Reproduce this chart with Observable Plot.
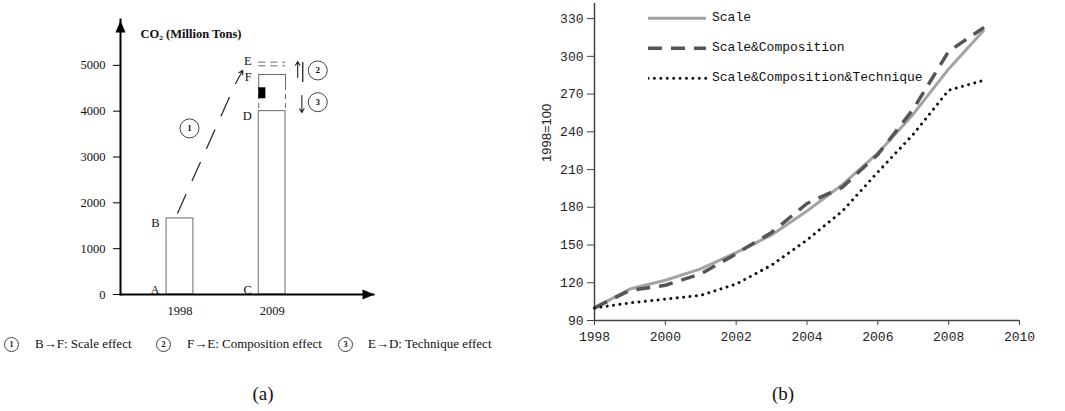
<!DOCTYPE html>
<html>
<head>
<meta charset="utf-8">
<script src="https://cdn.jsdelivr.net/npm/d3@7"></script>
<script src="https://cdn.jsdelivr.net/npm/@observablehq/plot@0.6"></script>
<style>
  body { margin: 0; background: #fff; }
  #page { position: relative; width: 1065px; height: 411px; overflow: hidden; background: #fff; }
  .abs { position: absolute; }
  .cap { position: absolute; top: 383px; width: 60px; margin-left: -30px; text-align: center;
         font-family: "Liberation Serif", serif; font-size: 19px; color: #111; line-height: 22px; }
  .num { position: absolute; width: 13px; height: 13px; border: 1px solid #444; border-radius: 50%;
         font-family: "Liberation Serif", serif; font-weight: bold; font-size: 8px; line-height: 13px; text-align: center; color: #111; }
  .leg { position: absolute; font-family: "Liberation Serif", serif; font-size: 13px; color: #111; line-height: 16px; white-space: nowrap; }
  .legB { position: absolute; font-family: "Liberation Mono", monospace; font-size: 13px; color: #111; line-height: 16px; white-space: nowrap; }
</style>
</head>
<body>
<div id="page">
  <div id="panelA" class="abs" style="left:0;top:0"></div>
  <div class="num" style="left:4px;top:337px">1</div>
  <div class="leg" style="left:35px;top:336px">B→F: Scale effect</div>
  <div class="num" style="left:156px;top:337px">2</div>
  <div class="leg" style="left:187px;top:336px">F→E: Composition effect</div>
  <div class="num" style="left:338px;top:337px">3</div>
  <div class="leg" style="left:368px;top:336px">E→D: Technique effect</div>
  <div class="cap" style="left:263px">(a)</div>

  <div id="panelB" class="abs" style="left:520px;top:0"></div>
  <div id="legendB" class="abs" style="left:648px;top:8px"></div>
  <div class="cap" style="left:783px">(b)</div>
</div>
<script>
// ---------- (a) decomposition of CO2 emissions, 1998 -> 2009 ----------
const periods = [1998, 2009];
const emissions = [1660, 4000];          // B and D (actual emissions)
const scaleLevel = 4800;                 // F: scale effect only
const compositionLevel = 5070;           // E: scale + composition
const compositionLevelLow = 4990;
const barHalf = 1.6;                     // half bar width, in years of the schematic axis

const bars = periods.map((p, i) => ({period: p, value: emissions[i]}));
const p1 = periods[0], p2 = periods[1];
const left2 = p2 - barHalf, right2 = p2 + barHalf;
const sideX = right2 + 1.45;

// arrowhead shape used at the end of both axes
const arrowHead = {draw(ctx) { ctx.moveTo(0, -12); ctx.lineTo(5, 0); ctx.lineTo(-5, 0); ctx.closePath(); }};

const serif = "'Liberation Serif', serif";
const one = [0];
const markers = [{x: 1999.14, y: 3624, n: "1"}, {x: 2014.45, y: 4888, n: "2"}, {x: 2014.45, y: 4196, n: "3"}];

const plotA = Plot.plot({
  width: 520, height: 330,
  marginLeft: 120, marginRight: 147, marginTop: 19, marginBottom: 36,
  x: {domain: [1990.9, 2021.1]},
  y: {domain: [0, 6000]},
  style: {fontFamily: serif, fontSize: "12.5px", color: "#111", background: "transparent"},
  marks: [
    Plot.axisY({ticks: [0, 1000, 2000, 3000, 4000, 5000], tickFormat: d => String(d), tickSize: 7, tickPadding: 8, label: null, stroke: "#000"}),
    Plot.axisX({ticks: periods, tickSize: 0, tickPadding: 12, tickFormat: d => String(d), label: null}),
    // bars
    Plot.rectY(bars, {x1: d => d.period - barHalf, x2: d => d.period + barHalf, y: "value", fill: "white", stroke: "#6a6a6a", strokeWidth: 1}),
    // hypothetical levels above 2009 bar
    Plot.ruleY([scaleLevel], {x1: left2, x2: right2, stroke: "#6a6a6a"}),
    Plot.ruleX([left2, right2], {y1: scaleLevel, y2: 4560, stroke: "#6a6a6a"}),
    Plot.ruleX([left2, right2], {y1: 4560, y2: emissions[1], stroke: "#6a6a6a", strokeDasharray: "5,4"}),
    Plot.ruleY([compositionLevel, compositionLevelLow], {x1: left2, x2: right2, stroke: "#6a6a6a", strokeDasharray: "7,5"}),
    Plot.rect(one, {x1: left2, x2: left2 + 0.85, y1: 4270, y2: 4510, fill: "#000"}),
    // scale-effect connector B -> F
    Plot.link(one, {x1: p1 - 0.3, y1: emissions[0] + 107, x2: 2004.64, y2: 4604, stroke: "#222", strokeWidth: 1.2, strokeDasharray: "21,14.5"}),
    Plot.arrow(one, {x1: 2004.64, y1: 4604, x2: 2005.48, y2: 4888, stroke: "#222", strokeWidth: 1.1, headLength: 6}),
    // composition / technique arrows
    Plot.arrow(one, {x1: sideX, y1: 4735, x2: sideX, y2: 5084, stroke: "#222", strokeWidth: 1.1, headLength: 6}),
    Plot.ruleX([sideX + 0.6], {y1: 4626, y2: 5062, stroke: "#222", strokeWidth: 1.3}),
    Plot.arrow(one, {x1: sideX + 0.5, y1: 4342, x2: sideX + 0.5, y2: 3971, stroke: "#222", strokeWidth: 1.1, headLength: 6}),
    // numbered markers
    Plot.dot(markers, {x: "x", y: "y", r: 9.5, fill: "white", stroke: "#444", strokeWidth: 1}),
    Plot.text(markers, {x: "x", y: "y", text: "n", fontSize: 9, fontWeight: "bold"}),
    // point labels
    Plot.text([{x: p1, y: emissions[0], t: "B"}, {x: p2, y: emissions[1], t: "D"}],
      {x: d => d.x - barHalf, y: "y", text: "t", textAnchor: "end", lineAnchor: "top", dx: -7, fontSize: 12.5}),
    Plot.text([{x: p1, t: "A"}, {x: p2, t: "C"}],
      {x: d => d.x - barHalf, y: 0, text: "t", textAnchor: "end", lineAnchor: "bottom", dx: -7, dy: -1, fontSize: 12.5}),
    Plot.text(["F"], {x: left2, y: scaleLevel, text: d => d, textAnchor: "end", lineAnchor: "top", dx: -7, dy: -2.5, fontSize: 12.5}),
    Plot.text(["E"], {x: left2, y: compositionLevel, text: d => d, textAnchor: "end", lineAnchor: "middle", dx: -7, dy: -1.5, fontSize: 12.5}),
    // axis title
    Plot.text(["CO₂ (Million Tons)"], {frameAnchor: "top-left", text: d => d, textAnchor: "start", dx: 20, dy: 10, fontWeight: "bold", fontSize: 12.5}),
    // axes with arrowheads
    Plot.frame({anchor: "left", stroke: "#000", strokeWidth: 2}),
    Plot.frame({anchor: "bottom", stroke: "#000", strokeWidth: 2}),
    Plot.dot(one, {frameAnchor: "top-left", symbol: arrowHead, r: 5, fill: "#000", stroke: "none", dy: 13}),
    Plot.dot(one, {frameAnchor: "bottom-right", symbol: arrowHead, r: 5, fill: "#000", stroke: "none", rotate: 90, dx: -11})
  ]
});
document.getElementById("panelA").append(plotA);

// ---------- (b) emission indices, 1998 = 100 ----------
const years = [1998, 1999, 2000, 2001, 2002, 2003, 2004, 2005, 2006, 2007, 2008, 2009];
const scaleIdx = [100, 115, 122, 131, 144, 158, 177, 198, 223, 254, 290, 321];
const scaleCompIdx = [100, 114, 118, 127, 143, 160, 183, 196, 222, 258, 304, 323];
const scaleCompTechIdx = [100, 104, 107, 110, 119, 134, 154, 177, 208, 238, 273, 281];
const seriesNames = ["Scale", "Scale&Composition", "Scale&Composition&Technique"];
const yTicks = [90, 120, 150, 180, 210, 240, 270, 300, 330];
const xTicks = [1998, 2000, 2002, 2004, 2006, 2008, 2010];

const styles = [
  {stroke: "#a3a3a3", strokeWidth: 3, strokeDasharray: null, strokeLinecap: "butt"},
  {stroke: "#555555", strokeWidth: 3.5, strokeDasharray: "14,9", strokeLinecap: "butt"},
  {stroke: "#111111", strokeWidth: 3, strokeDasharray: "0.01,6.4", strokeLinecap: "round"}
];
const seriesValues = [scaleIdx, scaleCompIdx, scaleCompTechIdx];
const seriesRows = seriesValues.map(vals => years.map((year, i) => ({year, value: vals[i]})));

const mono = "'Liberation Mono', monospace";
const plotB = Plot.plot({
  width: 545, height: 360,
  marginLeft: 74, marginRight: 46, marginTop: 3, marginBottom: 40,
  x: {domain: [1998, 2010]},
  y: {domain: [90, 342]},
  style: {fontFamily: mono, fontSize: "13px", color: "#222", background: "transparent"},
  marks: [
    Plot.axisY({ticks: yTicks, tickSize: 7, tickPadding: 4, label: null, stroke: "#444"}),
    Plot.axisX({ticks: xTicks, tickSize: 5, tickPadding: 6, tickFormat: d => String(d), label: null, stroke: "#444"}),
    Plot.ruleX([1998], {stroke: "#444", strokeWidth: 1.5}),
    Plot.ruleY([90], {stroke: "#444", strokeWidth: 1.5}),
    ...seriesRows.map((rows, k) => Plot.line(rows, {x: "year", y: "value", curve: "linear", ...styles[k]})),
    Plot.text(["1998=100"], {frameAnchor: "left", text: d => d, rotate: -90, dx: -48, fontFamily: "'Liberation Sans', sans-serif", fontSize: 13})
  ]
});
document.getElementById("panelB").append(plotB);

// legend for (b)
const legendB = document.getElementById("legendB");
seriesNames.forEach((name, k) => {
  const row = document.createElement("div");
  row.style.cssText = `position:absolute;left:0;top:${k * 30}px;width:320px;height:20px;`;
  const s = styles[k];
  row.innerHTML = `<svg width="60" height="20" style="position:absolute;left:0;top:0">
      <line x1="0" x2="58" y1="10.3" y2="10.3" stroke="${s.stroke}" stroke-width="${s.strokeWidth}"
        ${s.strokeDasharray ? `stroke-dasharray="${s.strokeDasharray}"` : ""} stroke-linecap="${s.strokeLinecap}"/></svg>
    <div class="legB" style="left:64px;top:2px">${name.replace(/&/g, "&amp;")}</div>`;
  legendB.append(row);
});
</script>
</body>
</html>
